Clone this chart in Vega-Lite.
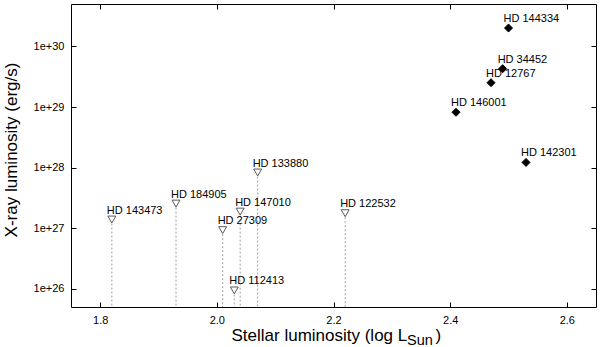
{
  "$schema": "https://vega.github.io/schema/vega-lite/v6.json",
  "width": 525,
  "height": 303,
  "autosize": {"type": "none"},
  "padding": {"left": 71, "top": 4, "right": 4, "bottom": 40},
  "config": {
    "font": "Liberation Sans",
    "view": {"stroke": "#000000", "strokeWidth": 1},
    "axis": {
      "grid": false,
      "domain": false,
      "tickColor": "#000000",
      "tickSize": -5,
      "tickWidth": 1,
      "labelPadding": 12,
      "labelFont": "Liberation Sans",
      "labelFontSize": 11,
      "labelColor": "#000000",
      "titleFont": "Liberation Sans",
      "titleFontWeight": "normal",
      "titleColor": "#000000",
      "titleFontSize": 17
    }
  },
  "data": {
    "values": [
      {"star": "HD 144334", "lum": 2.50, "lx": 2.01e30, "type": "detection"},
      {"star": "HD 34452", "lum": 2.49, "lx": 4.29e29, "type": "detection"},
      {"star": "HD 12767", "lum": 2.47, "lx": 2.52e29, "type": "detection"},
      {"star": "HD 146001", "lum": 2.41, "lx": 8.2e28, "type": "detection"},
      {"star": "HD 142301", "lum": 2.53, "lx": 1.22e28, "type": "detection"},
      {"star": "HD 133880", "lum": 2.07, "lx": 8.3e27, "type": "upper limit"},
      {"star": "HD 184905", "lum": 1.93, "lx": 2.55e27, "type": "upper limit"},
      {"star": "HD 143473", "lum": 1.82, "lx": 1.39e27, "type": "upper limit"},
      {"star": "HD 147010", "lum": 2.04, "lx": 1.88e27, "type": "upper limit"},
      {"star": "HD 27309", "lum": 2.01, "lx": 9.3e26, "type": "upper limit"},
      {"star": "HD 112413", "lum": 2.03, "lx": 9.4e25, "type": "upper limit"},
      {"star": "HD 122532", "lum": 2.22, "lx": 1.77e27, "type": "upper limit"}
    ]
  },
  "resolve": {"axis": {"x": "independent", "y": "independent"}},
  "layer": [
    {
      "transform": [{"filter": "datum.type === 'upper limit'"}],
      "mark": {"type": "rule", "stroke": "#a0a0a0", "strokeWidth": 1, "strokeDash": [2, 2]},
      "encoding": {
        "x": {
          "field": "lum", "type": "quantitative",
          "scale": {"domain": [1.75, 2.65], "nice": false, "zero": false},
          "axis": {
            "orient": "bottom",
            "values": [1.8, 2.0, 2.2, 2.4, 2.6],
            "format": ".1f",
            "title": "Stellar luminosity (log L",
            "titleX": 160,
            "titleY": 33.5,
            "titleAlign": "left",
            "titleBaseline": "alphabetic"
          }
        },
        "y": {
          "field": "lx", "type": "quantitative",
          "scale": {"type": "log", "domain": [5.012e25, 5.012e30], "nice": false, "zero": false},
          "axis": {
            "orient": "left",
            "values": [1e26, 1e27, 1e28, 1e29, 1e30],
            "labelExpr": "'1e+' + format(log(datum.value) / LN10, '.0f')",
            "title": "X-ray luminosity (erg/s)",
            "titleAngle": -90,
            "titleX": -60,
            "titleY": 145.5,
            "titleAlign": "center",
            "titleBaseline": "middle"
          }
        },
        "y2": {"datum": 5.012e25}
      }
    },
    {
      "mark": {"type": "point", "size": 64, "strokeWidth": 1, "opacity": 1, "fillOpacity": 1},
      "encoding": {
        "x": {
          "field": "lum", "type": "quantitative",
          "axis": {"orient": "top", "values": [1.8, 2.0, 2.2, 2.4, 2.6], "labels": false, "title": null}
        },
        "y": {
          "field": "lx", "type": "quantitative",
          "axis": {"orient": "right", "values": [1e26, 1e27, 1e28, 1e29, 1e30], "labels": false, "title": null}
        },
        "shape": {
          "field": "type", "type": "nominal",
          "scale": {"domain": ["detection", "upper limit"], "range": ["diamond", "triangle-down"]},
          "legend": null
        },
        "fill": {
          "field": "type", "type": "nominal",
          "scale": {"domain": ["detection", "upper limit"], "range": ["#000000", "#ffffff"]},
          "legend": null
        },
        "stroke": {
          "field": "type", "type": "nominal",
          "scale": {"domain": ["detection", "upper limit"], "range": ["#000000", "#5a5a5a"]},
          "legend": null
        }
      }
    },
    {
      "mark": {"type": "text", "align": "left", "baseline": "alphabetic", "dx": -5, "dy": -6, "fontSize": 11, "font": "Liberation Sans", "color": "#000000"},
      "encoding": {
        "x": {
          "field": "lum", "type": "quantitative",
          "axis": {
            "orient": "bottom", "labels": false, "ticks": false,
            "title": "Sun", "titleFontSize": 14.5,
            "titleX": 335.5, "titleY": 37.5,
            "titleAlign": "left", "titleBaseline": "alphabetic"
          }
        },
        "y": {
          "field": "lx", "type": "quantitative",
          "axis": {
            "orient": "left", "labels": false, "ticks": false,
            "title": ")", "titleAngle": 0,
            "titleX": 364, "titleY": 336.5,
            "titleAlign": "left", "titleBaseline": "alphabetic"
          }
        },
        "text": {"field": "star"}
      }
    }
  ]
}
